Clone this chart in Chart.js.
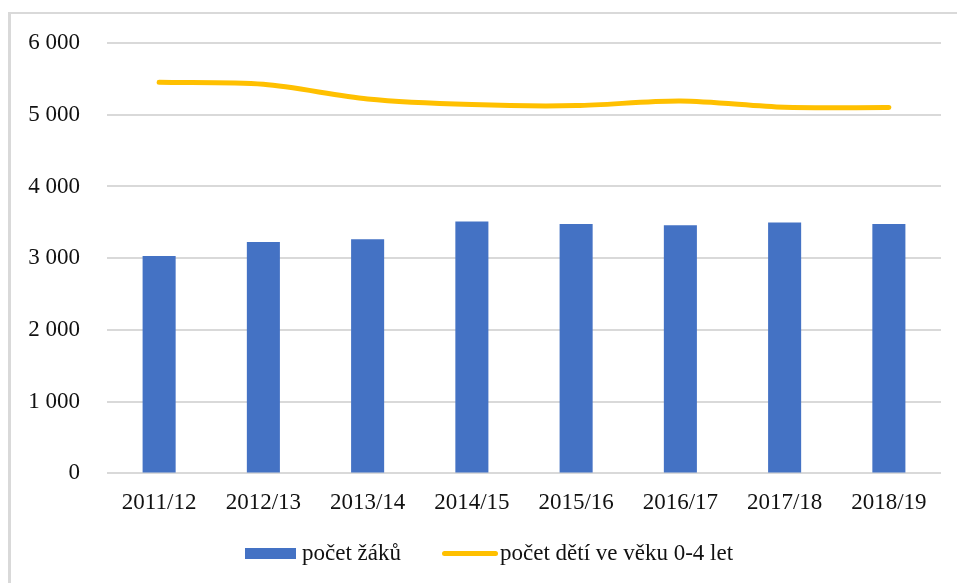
<!DOCTYPE html>
<html>
<head>
<meta charset="utf-8">
<script src="https://cdn.jsdelivr.net/npm/chart.js@4/dist/chart.umd.min.js"></script>
<style>
  html, body { margin: 0; padding: 0; background: #fff; }
  #wrap { position: relative; width: 957px; height: 583px; overflow: hidden; }
  #frame { position: absolute; left: 8px; top: 12px; width: 960px; height: 600px;
           border-top: 2px solid #d9d9d9; border-left: 3px solid #d9d9d9; }
  #chart { position: absolute; left: 0; top: 0; }
  .leg { position: absolute; font-family: "Liberation Serif", "Times New Roman", serif;
         font-size: 23px; color: #111; line-height: 23px; }
  .sw { position: absolute; }
</style>
</head>
<body>
<div id="wrap">
  <div id="frame"></div>
  <canvas id="chart" width="957" height="583"></canvas>
  <div class="sw" style="left:245px;top:548px;width:51px;height:11px;background:#4472C4;"></div>
  <div class="leg" style="left:302px;top:541px;">počet žáků</div>
  <div class="sw" style="left:442px;top:551px;width:56px;height:5px;background:#FFC000;border-radius:3px;"></div>
  <div class="leg" style="left:500px;top:541px;">počet dětí ve věku 0-4 let</div>
</div>
<script>
document.addEventListener("DOMContentLoaded", function() {
  // school years on the x axis
  const years = ["2011/12", "2012/13", "2013/14", "2014/15", "2015/16", "2016/17", "2017/18", "2018/19"];
  // number of pupils (bars)
  const pupils = [3030, 3225, 3265, 3510, 3478, 3460, 3497, 3478];
  // number of children aged 0-4 (line)
  const children = [5452, 5424, 5220, 5141, 5127, 5192, 5104, 5100];
  const yTicks = [0, 1000, 2000, 3000, 4000, 5000, 6000];

  const fmt = v => String(v).replace(/\B(?=(\d{3})+(?!\d))/g, " ");
  const font = { family: "'Liberation Serif', 'Times New Roman', serif", size: 23 };

  const ctx = document.getElementById("chart").getContext("2d");
  new Chart(ctx, {
    type: "bar",
    data: {
      labels: years,
      datasets: [{
        type: "line",
        label: "počet dětí ve věku 0-4 let",
        data: children,
        borderColor: "#FFC000",
        backgroundColor: "#FFC000",
        borderWidth: 5,
        borderCapStyle: "round",
        tension: 0.3,
        pointRadius: 0,
        order: 0
      }, {
        label: "počet žáků",
        data: pupils,
        backgroundColor: "#4472C4",
        borderWidth: 0,
        categoryPercentage: 1,
        barPercentage: 0.317,
        order: 1
      }]
    },
    options: {
      responsive: false,
      animation: false,
      layout: { padding: { top: 43, right: 16, bottom: 50, left: 0 } },
      plugins: { legend: { display: false }, tooltip: { enabled: false } },
      scales: {
        x: {
          grid: { display: false, drawTicks: false },
          border: { display: false },
          ticks: { font: font, color: "#111", padding: 16, maxRotation: 0 }
        },
        y: {
          min: 0,
          max: 6000,
          afterBuildTicks: s => { s.ticks = yTicks.map(v => ({ value: v })); },
          afterFit: s => { s.width = 107; },
          grid: { color: "#d9d9d9", lineWidth: 2, drawTicks: false },
          border: { display: false },
          ticks: { font: font, color: "#111", padding: 27, callback: v => fmt(v) }
        }
      }
    }
  });
});
</script>
</body>
</html>
